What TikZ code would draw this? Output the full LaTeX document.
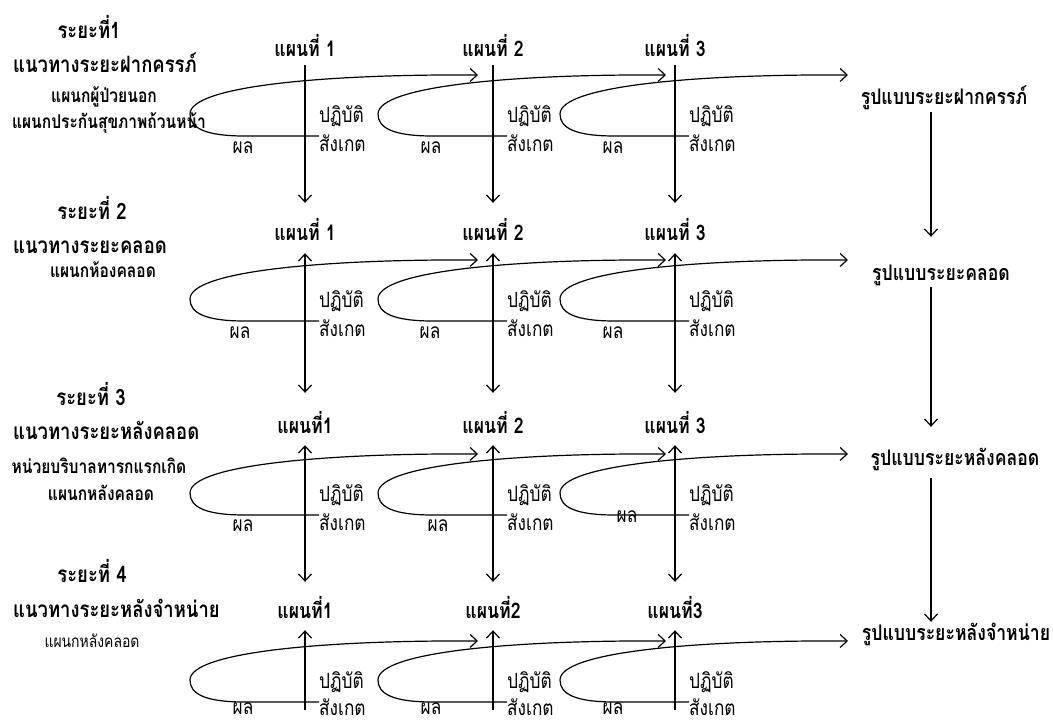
\documentclass[tikz,border=0pt]{standalone}
\usepackage{fontspec}
\newfontfamily\thaifont[Script=Thai, FakeStretch=0.82]{Loma}
\usetikzlibrary{arrows.meta}

\tikzset{
  barb/.tip={Straight Barb[length=7pt,width=13pt]},
  txt/.style={inner sep=0pt, text height=13pt, text depth=4pt},
  phase/.style={txt, font=\thaifont\bfseries\fontsize{22.5}{22.5}\selectfont},
  guide/.style={txt, font=\thaifont\bfseries\fontsize{22.5}{22.5}\selectfont},
  ward/.style={txt, font=\thaifont\bfseries\fontsize{19}{19}\selectfont},
  plan/.style={txt, font=\thaifont\bfseries\fontsize{21.5}{21.5}\selectfont},
  act/.style={txt, font=\thaifont\fontsize{21}{21}\selectfont},
  note/.style={txt, font=\thaifont\fontsize{17}{17}\selectfont},
  model/.style={txt, font=\thaifont\bfseries\fontsize{21.5}{21.5}\selectfont},
  flow/.style={line width=1.2pt, -barb},
  both/.style={line width=1.2pt, barb-barb},
}

\begin{document}
\begin{tikzpicture}[x=1pt,y=-1pt]
  \useasboundingbox (0,0) rectangle (1053,724);

  % phases
  \node[phase, anchor=base] (h1) at (89,38) {ระยะที่1};
  \node[guide, anchor=base west] (g1) at (13,72) {แนวทางระยะฝากครรภ์};
  \node[ward, anchor=base] (w1a) at (104,102) {แผนกผู้ป่วยนอก};
  \node[ward, anchor=base] (w1b) at (109,128) {แผนกประกันสุขภาพถ้วนหน้า};

  \node[phase, anchor=base] (h2) at (92,219) {ระยะที่ 2};
  \node[guide, anchor=base west] (g2) at (13,253) {แนวทางระยะคลอด};
  \node[ward, anchor=base] (w2) at (103,277) {แผนกห้องคลอด};

  \node[phase, anchor=base] (h3) at (91,405) {ระยะที่ 3};
  \node[guide, anchor=base west] (g3) at (13,439) {แนวทางระยะหลังคลอด};
  \node[ward, anchor=base] (w3a) at (99,473) {หน่วยบริบาลทารกแรกเกิด};
  \node[ward, anchor=base] (w3b) at (101,500) {แผนกหลังคลอด};

  \node[phase, anchor=base] (h4) at (92,582) {ระยะที่ 4};
  \node[guide, anchor=base west] (g4) at (13,617) {แนวทางระยะหลังจำหน่าย};
  \node[note, anchor=base] (w4) at (92,647) {แผนกหลังคลอด};

  % plans
  \node[plan, anchor=base] (p11) at (305,56) {แผนที่ 1};
  \node[plan, anchor=base] (p12) at (493,56) {แผนที่ 2};
  \node[plan, anchor=base] (p13) at (675,56) {แผนที่ 3};
  \node[plan, anchor=base] (p21) at (305,240) {แผนที่ 1};
  \node[plan, anchor=base] (p22) at (493,240) {แผนที่ 2};
  \node[plan, anchor=base] (p23) at (675,240) {แผนที่ 3};
  \node[plan, anchor=base] (p31) at (305,433) {แผนที่1};
  \node[plan, anchor=base] (p32) at (493,433) {แผนที่ 2};
  \node[plan, anchor=base] (p33) at (675,433) {แผนที่ 3};
  \node[plan, anchor=base] (p41) at (305,618) {แผนที่1};
  \node[plan, anchor=base] (p42) at (493,618) {แผนที่2};
  \node[plan, anchor=base] (p43) at (675,618) {แผนที่3};

  % models
  \node[model, anchor=base] (r1) at (944,104) {รูปแบบระยะฝากครรภ์};
  \node[model, anchor=base] (r2) at (941,280) {รูปแบบระยะคลอด};
  \node[model, anchor=base] (r3) at (955,465) {รูปแบบระยะหลังคลอด};
  \node[model, anchor=base] (r4) at (956,640) {รูปแบบระยะหลังจำหน่าย};
  \coordinate (rc) at (931,0);

  \foreach \k in {1,2,3} {
    \coordinate (e\k) at (p4\k.south |- 0,710);
    \draw[flow, shorten <=5pt, shorten >=24pt] (p1\k.south) -- (p2\k.north);
    \draw[both, shorten <=9pt, shorten >=27pt] (p2\k.south) -- (p3\k.north);
    \draw[both, shorten <=8pt, shorten >=23pt] (p3\k.south) -- (p4\k.north);
    \draw[line width=1.2pt, barb-, shorten <=8pt] (p4\k.south) -- (e\k);
  }

  \draw[flow, shorten <=4pt, shorten >=30pt] (r1.south -| rc) -- (r2.north -| rc);
  \draw[flow, shorten <=3pt, shorten >=25pt] (r2.south -| rc) -- (r3.north -| rc);
  \draw[flow, shorten <=9pt, shorten >=5pt] (r3.south -| rc) -- (r4.north -| rc);

  % cycles
  \foreach \r/\yb in {1/136,2/321,3/515,4/702}
    \foreach \c [count=\k] in {305,493,675} {
      \draw[flow] ({\c+14},\yb) -- ({\c-60},\yb)
        .. controls ({\c-100},\yb) and ({\c-115},{\yb-8}) .. ({\c-115},{\yb-22})
        .. controls ({\c-115},{\yb-50}) and ({\c+20},{\yb-62}) .. ({\c+173},{\yb-61});
      \node[act, anchor=base west] (act\r\k) at ({\c+14},{\yb-14}) {ปฏิบัติ};
      \node[act, anchor=base west] (obs\r\k) at ({\c+14},{min(\yb+15,715)}) {สังเกต};
    }

  \foreach \r/\k/\x/\y in {1/1/243/153,1/2/431/153,1/3/613/153,
      2/1/240/338,2/2/430/338,2/3/613/338,
      3/1/243/531,3/2/438/531,3/3/627/522,
      4/1/243/714,4/2/431/714,4/3/613/714}
    \node[act, anchor=base] (res\r\k) at (\x,\y) {ผล};
\end{tikzpicture}
\end{document}
